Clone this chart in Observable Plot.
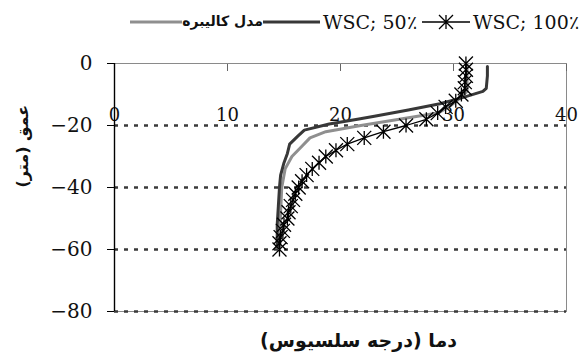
<!DOCTYPE html>
<html>
<head>
<meta charset="utf-8">
<script src="https://cdn.jsdelivr.net/npm/d3@7"></script>
<script src="https://cdn.jsdelivr.net/npm/@observablehq/plot@0.6"></script>
<style>
  body { margin: 0; background: #fff; width: 583px; height: 362px; overflow: hidden; }
  #legend { position: relative; height: 34px; width: 583px; }
  #legend .item { position: absolute; white-space: nowrap; line-height: 1; }
  #legend .fa { font-family: "DejaVu Sans"; font-weight: bold; font-size: 14px; direction: rtl; color: #111; }
  #legend .en { font-family: "DejaVu Serif"; font-size: 19px; direction: ltr; color: #111; }
  #legend svg { position: absolute; overflow: visible; }
</style>
</head>
<body>
<div id="legend"></div>
<div id="chart"></div>
<script>
// Axis ticks
const xTicks = [0, 10, 20, 30, 40];
const yTicks = [0, -20, -40, -60, -80];
const gridDepths = [-20, -40, -60, -80];

// Axis titles and series names
const xTitle = "دما (درجه سلسیوس)";
const yTitle = "عمق (متر)";
const seriesNames = ["مدل کالیبره", "WSC; 50٪", "WSC; 100٪"];

// Calibrated model profile: depth (m) and temperature (°C)
const calibratedDepth = [0, -4, -9, -12, -14, -16, -18, -20, -22, -24, -27, -30, -34, -40, -48, -59];
const calibratedTemp  = [31.2, 31.2, 31.2, 30.3, 29.6, 28.6, 25.2, 21.8, 18.7, 17.3, 16.5, 15.7, 15.1, 14.8, 14.7, 14.6];

// WSC 50% profile
const wsc50Depth = [-1, -4, -8, -9, -11, -13, -15, -17, -18, -19.5, -21.5, -23.5, -26, -29, -32, -36, -40, -46, -52, -59];
const wsc50Temp  = [33.0, 33.0, 32.9, 32.6, 30.8, 28.8, 26.0, 23.0, 21.5, 19.0, 16.8, 16.2, 15.5, 15.3, 15.0, 14.7, 14.6, 14.5, 14.4, 14.4];

// WSC 100% profile (every 2 m)
const wsc100Depth = [0, -2, -4, -6, -8, -10, -12, -14, -16, -18, -20, -22, -24, -26, -28, -30,
                     -32, -34, -36, -38, -40, -42, -44, -46, -48, -50, -52, -54, -56, -58, -60];
const wsc100Temp  = [31.1, 31.1, 31.1, 31.0, 31.0, 30.7, 30.2, 29.3, 28.6, 27.6, 25.8, 23.8, 22.1, 20.6, 19.6, 18.7,
                     18.1, 17.5, 17.0, 16.6, 16.3, 16.0, 15.8, 15.6, 15.4, 15.3, 15.0, 14.9, 14.7, 14.6, 14.6];

const toRows = (depths, temps) => depths.map((d, i) => ({depth: d, temp: temps[i]}));
const calibrated = toRows(calibratedDepth, calibratedTemp);
const wsc50 = toRows(wsc50Depth, wsc50Temp);
const wsc100 = toRows(wsc100Depth, wsc100Temp);

const colors = {calibrated: "#8f8f8f", wsc50: "#383838", wsc100: "#000"};

// Star marker: an X crossed by a vertical bar
const star = {
  draw(context, size) {
    const r = Math.sqrt(size / Math.PI);
    context.moveTo(0, -r); context.lineTo(0, r);
    context.moveTo(-r, -r); context.lineTo(r, r);
    context.moveTo(-r, r); context.lineTo(r, -r);
  }
};

// Legend row
const legend = document.getElementById("legend");
const lineSwatch = (left, width, color, strokeWidth, withStar) => {
  const svg = d3.create("svg").attr("width", width).attr("height", 16)
    .style("left", left + "px").style("top", "14px");
  svg.append("line").attr("x1", 0).attr("x2", width).attr("y1", 8).attr("y2", 8)
    .attr("stroke", color).attr("stroke-width", strokeWidth);
  if (withStar) {
    const p = d3.path();
    star.draw(p, 7 * 7 * Math.PI);
    svg.append("path").attr("d", p.toString()).attr("transform", `translate(${width / 2},8)`)
      .attr("stroke", "#000").attr("stroke-width", 1.3).attr("fill", "none");
  }
  legend.appendChild(svg.node());
};
const legendText = (text, cls, pos) => {
  const el = document.createElement("div");
  el.className = "item " + cls;
  el.textContent = text;
  Object.assign(el.style, pos);
  legend.appendChild(el);
};
lineSwatch(130, 52, colors.calibrated, 3, false);
legendText(seriesNames[0], "fa", {right: "320px", top: "14px"});
lineSwatch(263, 57, colors.wsc50, 3, false);
legendText(seriesNames[1], "en", {left: "323px", top: "13px"});
lineSwatch(422, 48, colors.wsc100, 1.3, true);
legendText(seriesNames[2], "en", {left: "473px", top: "13px"});

const chart = Plot.plot({
  width: 583,
  height: 328,
  marginTop: 29,
  marginBottom: 51,
  marginLeft: 114,
  marginRight: 17,
  style: {fontFamily: "DejaVu Serif", fontSize: "18px", color: "#111", background: "#fff"},
  x: {domain: [0, 40]},
  y: {domain: [-80, 0]},
  marks: [
    Plot.frame({stroke: "#8a8a8a", strokeWidth: 1}),
    Plot.gridY(gridDepths, {stroke: "#3a3a3a", strokeOpacity: 1, strokeWidth: 2.5, strokeDasharray: "4,6"}),
    Plot.axisX({anchor: "top", ticks: xTicks, tickSize: -7, stroke: "#666", tickFormat: () => "", label: null}),
    Plot.text(xTicks, {x: d => d, text: d => String(d), frameAnchor: "top", dy: 45, fontSize: 18}),
    Plot.axisY({ticks: yTicks, tickSize: 7, tickPadding: 15, stroke: "#000", fontSize: 20, label: null}),
    Plot.ruleX([0], {stroke: "#000", strokeWidth: 1.4}),
    Plot.line(calibrated, {x: "temp", y: "depth", stroke: colors.calibrated, strokeWidth: 3}),
    Plot.line(wsc50, {x: "temp", y: "depth", stroke: colors.wsc50, strokeWidth: 3}),
    Plot.line(wsc100, {x: "temp", y: "depth", stroke: colors.wsc100, strokeWidth: 1.3}),
    Plot.dot(wsc100, {x: "temp", y: "depth", symbol: star, r: 7, fill: "none", stroke: colors.wsc100, strokeWidth: 1.3}),
    Plot.text([yTitle], {text: d => d, frameAnchor: "left", dx: -92, rotate: -90, fontFamily: "DejaVu Sans", fontWeight: "bold", fontSize: 16}),
    Plot.text([xTitle], {text: d => d, frameAnchor: "bottom", dx: 18, dy: 35, fontFamily: "DejaVu Sans", fontWeight: "bold", fontSize: 19})
  ]
});
document.getElementById("chart").appendChild(chart);
</script>
</body>
</html>
